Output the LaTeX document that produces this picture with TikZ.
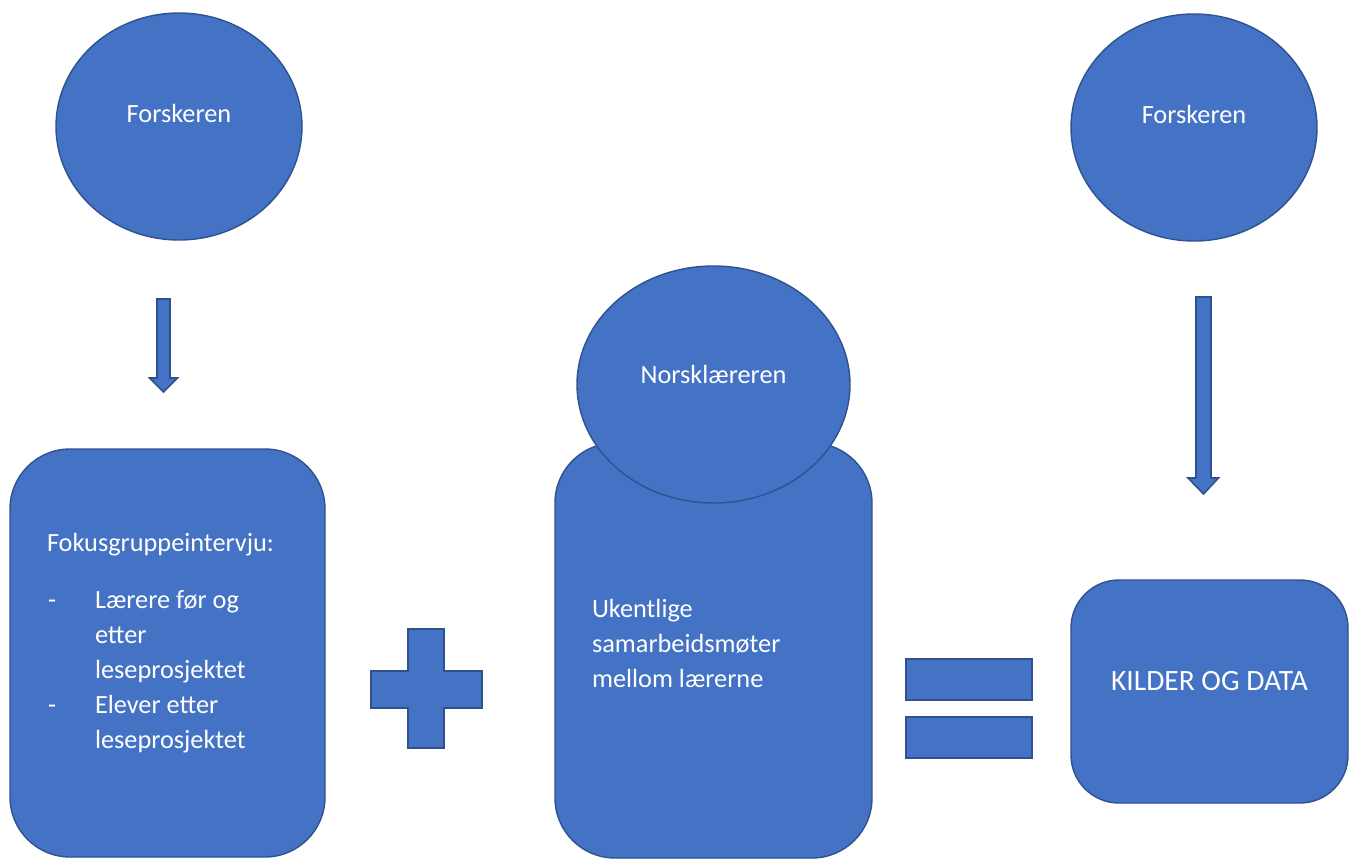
\documentclass[tikz,border=0pt]{standalone}
\usepackage{fontspec}
\setmainfont{Carlito}
\usetikzlibrary{shapes.geometric}
\definecolor{fillblue}{HTML}{4472C4}
\definecolor{edgeblue}{HTML}{2F528F}
\tikzset{
  shapebox/.style={draw=edgeblue, fill=fillblue, line width=1.4pt, inner sep=0pt, outer sep=0pt},
  roundbox/.style={shapebox, rectangle},
  oval/.style={shapebox, ellipse},
  symbolshape/.style={draw=edgeblue, fill=fillblue, line width=2.2pt, line join=miter},
  blockarrow/.style={draw=edgeblue, fill=fillblue, line width=1.6pt, line join=miter},
  lbl/.style={text=white, font=\fontsize{26.3}{35}\selectfont, inner sep=0pt, outer sep=0pt},
  biglbl/.style={lbl, font=\fontsize{29.5}{36}\selectfont},
}
\begin{document}
\begin{tikzpicture}[x=1pt, y=-1pt]
\useasboundingbox (0,0) rectangle (1354,861);
% shapes
\node[roundbox, rounded corners=60pt, minimum width=315pt, minimum height=408pt] (focus) at (167.5,653) {};
\node[roundbox, rounded corners=60pt, minimum width=317pt, minimum height=415pt] (meet) at (713.5,650.5) {};
\node[roundbox, rounded corners=48pt, minimum width=277pt, minimum height=223pt] (data) at (1209.5,691.5) {};
\node[oval, minimum width=246pt, minimum height=227pt] (res1) at (179,126.5) {};
\node[oval, minimum width=246pt, minimum height=227pt] (res2) at (1194,127.5) {};
\node[oval, minimum width=273pt, minimum height=237pt] (teacher) at (713.5,384.5) {};
% block arrows
\draw[blockarrow] (157,299) -- (170,299) -- (170,378) -- (177.5,378) -- (163.5,392) -- (149.5,378) -- (157,378) -- cycle;
\draw[blockarrow] (1196,297) -- (1211,297) -- (1211,478) -- (1218.5,478) -- (1203.5,494) -- (1188,478) -- (1196,478) -- cycle;
% plus
\draw[symbolshape] (408,629) -- (444,629) -- (444,671) -- (482,671) -- (482,708) -- (444,708) -- (444,748) -- (408,748) -- (408,708) -- (371,708) -- (371,671) -- (408,671) -- cycle;
% equals
\draw[symbolshape] (906,659) rectangle (1032,700);
\draw[symbolshape] (906,717) rectangle (1032,758);
% texts
\node[lbl, anchor=base] (t1) at (179,122.5) {Forskeren};
\node[lbl, anchor=base] (t2) at (1194,124) {Forskeren};
\node[lbl, anchor=base] (t3) at (713.5,383) {Norsklæreren};
\node[biglbl, anchor=base] (t4) at (1209.5,690.5) {KILDER OG DATA};
\node[lbl, anchor=base west] (f0) at (47,551.5) {Fokusgruppeintervju:};
\node[lbl, anchor=base west] (d1) at (48,608) {-};
\node[lbl, anchor=base west] (f1) at (95,608) {Lærere før og};
\node[lbl, anchor=base west] (f2) at (95,643) {etter};
\node[lbl, anchor=base west] (f3) at (95,678) {leseprosjektet};
\node[lbl, anchor=base west] (d2) at (48,713) {-};
\node[lbl, anchor=base west] (f4) at (95,713) {Elever etter};
\node[lbl, anchor=base west] (f5) at (95,748) {leseprosjektet};
\node[lbl, anchor=base west] (m1) at (592,617) {Ukentlige};
\node[lbl, anchor=base west] (m2) at (592,652) {samarbeidsmøter};
\node[lbl, anchor=base west] (m3) at (592,687.5) {mellom lærerne};
\end{tikzpicture}
\end{document}
